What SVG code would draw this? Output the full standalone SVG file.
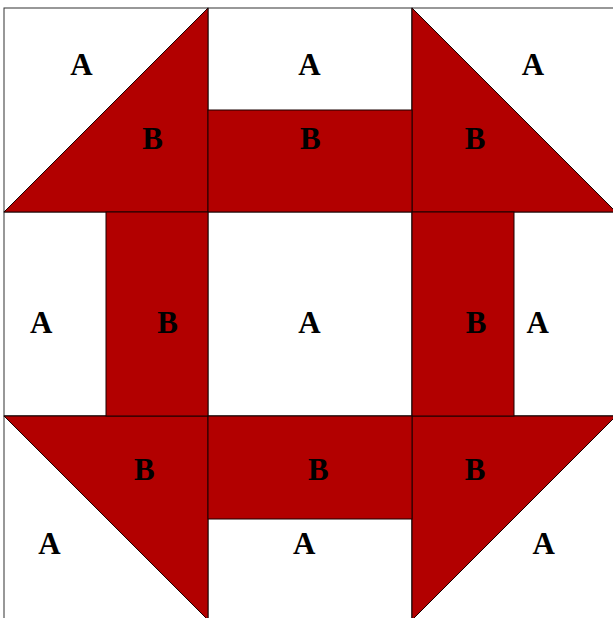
<svg xmlns="http://www.w3.org/2000/svg" width="613" height="618" viewBox="0 0 613 618">
<style>
.cell{fill:#ffffff;stroke:#333333;stroke-width:1}
.red{fill:#b20000;stroke:#1a0000;stroke-width:1}
.lbl{font-family:"Liberation Serif","Times New Roman",serif;font-weight:bold;font-size:31px;fill:#000;text-anchor:middle}
</style>
<rect x="0" y="0" width="613" height="618" fill="#ffffff"/>
<g id="cells">
<rect class="cell" x="4" y="8" width="204" height="204"/>
<rect class="cell" x="208" y="8" width="204" height="204"/>
<rect class="cell" x="412" y="8" width="204" height="204"/>
<rect class="cell" x="4" y="212" width="204" height="204"/>
<rect class="cell" x="208" y="212" width="204" height="204"/>
<rect class="cell" x="412" y="212" width="204" height="204"/>
<rect class="cell" x="4" y="416" width="204" height="204"/>
<rect class="cell" x="208" y="416" width="204" height="204"/>
<rect class="cell" x="412" y="416" width="204" height="204"/>
</g>
<g id="tri-tl"><polygon class="red" points="4,212 208,8 208,212"/></g>
<g id="tri-tr"><polygon class="red" points="412,8 616,212 412,212"/></g>
<g id="tri-bl"><polygon class="red" points="4,416 208,416 208,620"/></g>
<g id="tri-br"><polygon class="red" points="412,416 616,416 412,620"/></g>
<g id="bar-top"><rect class="red" x="208" y="110" width="204" height="102"/></g>
<g id="bar-left"><rect class="red" x="106" y="212" width="102" height="204"/></g>
<g id="bar-right"><rect class="red" x="412" y="212" width="102" height="204"/></g>
<g id="bar-bottom"><rect class="red" x="208" y="416" width="204" height="103"/></g>
<g id="labels">
<text class="lbl" x="81.5" y="75">A</text>
<text class="lbl" x="309.5" y="75">A</text>
<text class="lbl" x="533" y="75">A</text>
<text class="lbl" x="152.5" y="148.5">B</text>
<text class="lbl" x="310.3" y="148.5">B</text>
<text class="lbl" x="475" y="148.5">B</text>
<text class="lbl" x="41.3" y="332.5">A</text>
<text class="lbl" x="167.5" y="332.5">B</text>
<text class="lbl" x="309.5" y="332.5">A</text>
<text class="lbl" x="476" y="332.5">B</text>
<text class="lbl" x="537.8" y="332.5">A</text>
<text class="lbl" x="144.3" y="479.5">B</text>
<text class="lbl" x="318.3" y="479.5">B</text>
<text class="lbl" x="475" y="479.5">B</text>
<text class="lbl" x="49.5" y="554">A</text>
<text class="lbl" x="304.2" y="554">A</text>
<text class="lbl" x="543.8" y="554">A</text>
</g>
</svg>
